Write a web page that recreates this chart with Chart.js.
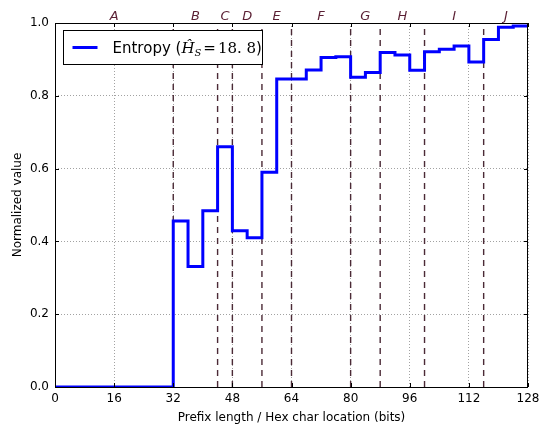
<!DOCTYPE html>
<html>
<head>
<meta charset="utf-8">
<script src="https://cdn.jsdelivr.net/npm/chart.js@4/dist/chart.umd.min.js"></script>
<style>
    html, body { margin: 0; padding: 0; background: #fff; }
    #wrap { width: 540px; height: 427px; }
</style>
</head>
<body>
<div id="wrap"><canvas id="entropy-chart"></canvas></div>
<script>
// entropy per hex character (32 chars, 4 bits each)
const charEntropy = [
    0, 0, 0, 0, 0, 0, 0, 0,
    0.456, 0.331, 0.484, 0.660, 0.429, 0.410, 0.590, 0.846,
    0.846, 0.871, 0.905, 0.907, 0.851, 0.864, 0.919, 0.912,
    0.870, 0.921, 0.928, 0.937, 0.893, 0.955, 0.988, 0.992
];
const bitsPerChar = 4;
const segmentBounds = [32, 44, 48, 56, 64, 80, 88, 100, 116];
const segmentNames = ['A', 'B', 'C', 'D', 'E', 'F', 'G', 'H', 'I', 'J'];
const segmentCenters = [16, 38, 46, 52, 60, 72, 84, 94, 108, 122];
const xTicks = [0, 16, 32, 48, 64, 80, 96, 112, 128];
const yTicks = [0, 0.2, 0.4, 0.6, 0.8, 1.0];
const entropyLabel = 18.8;

const stepPoints = charEntropy.map((v, i) => ({ x: i * bitsPerChar, y: v }));
stepPoints.push({ x: charEntropy.length * bitsPerChar, y: charEntropy[charEntropy.length - 1] });

const boundaryDatasets = segmentBounds.map(b => ({
    data: [{ x: b, y: 0 }, { x: b, y: 1 }],
    borderColor: '#4b2a36',
    borderWidth: 1.4,
    borderDash: [6, 5],
    pointRadius: 0,
    fill: false
}));

// matplotlib-style inward ticks on all four sides
const inwardTicks = {
    id: 'inwardTicks',
    afterDatasetsDraw(chart) {
        const { ctx, chartArea: a, scales: { x, y } } = chart;
        ctx.save();
        ctx.strokeStyle = '#000';
        ctx.lineWidth = 1;
        ctx.beginPath();
        xTicks.forEach(t => {
            const px = Math.round(x.getPixelForValue(t)) + 0.5;
            ctx.moveTo(px, a.bottom); ctx.lineTo(px, a.bottom - 4);
            ctx.moveTo(px, a.top); ctx.lineTo(px, a.top + 4);
        });
        yTicks.forEach(t => {
            const py = Math.round(y.getPixelForValue(t)) + 0.5;
            ctx.moveTo(a.left, py); ctx.lineTo(a.left + 4, py);
            ctx.moveTo(a.right, py); ctx.lineTo(a.right - 4, py);
        });
        ctx.stroke();
        ctx.strokeRect(a.left + 0.5, a.top + 0.5, a.right - a.left - 1, a.bottom - a.top);
        ctx.restore();
    }
};

// segment letters above the plot
const segmentLetters = {
    id: 'segmentLetters',
    afterDraw(chart) {
        const { ctx, chartArea: a, scales: { x } } = chart;
        ctx.save();
        ctx.fillStyle = '#5a1f33';
        ctx.font = 'italic 13px "DejaVu Sans"';
        ctx.textAlign = 'center';
        ctx.textBaseline = 'alphabetic';
        segmentNames.forEach((n, i) => {
            ctx.fillText(n, x.getPixelForValue(segmentCenters[i]), a.top - 3);
        });
        ctx.restore();
    }
};

// legend box with the math-style label
const mathLegend = {
    id: 'mathLegend',
    afterDraw(chart) {
        const { ctx, chartArea: a } = chart;
        const bx = a.left + 8.5, by = a.top + 7.5, bw = 199, bh = 34;
        ctx.save();
        ctx.fillStyle = '#fff';
        ctx.fillRect(bx, by, bw, bh);
        ctx.strokeStyle = '#000';
        ctx.lineWidth = 1;
        ctx.strokeRect(bx, by, bw, bh);
        const cy = by + bh / 2;
        ctx.strokeStyle = '#0000ff';
        ctx.lineWidth = 3;
        ctx.beginPath();
        ctx.moveTo(bx + 9, cy); ctx.lineTo(bx + 34, cy);
        ctx.stroke();

        ctx.fillStyle = '#000';
        ctx.textBaseline = 'alphabetic';
        ctx.textAlign = 'left';
        const base = cy + 5.5;
        let tx = bx + 49;
        const put = (text, font, dy = 0) => {
            ctx.font = font;
            ctx.fillText(text, tx, base + dy);
            tx += ctx.measureText(text).width;
        };
        put('Entropy (', '15px "DejaVu Sans"');
        put('Ĥ', 'italic 15px "DejaVu Serif"');
        put('S', 'italic 10px "DejaVu Serif"', 3);
        tx += 2;
        put('=', '15px "DejaVu Serif"');
        tx += 2;
        put(entropyLabel.toFixed(1).replace('.', '. '), '15px "DejaVu Serif"');
        put(')', '15px "DejaVu Sans"');
        ctx.restore();
    }
};

new Chart(document.getElementById('entropy-chart'), {
    type: 'line',
    data: {
        datasets: [{
            label: 'Entropy',
            data: stepPoints,
            borderColor: '#0000ff',
            borderWidth: 3,
            stepped: 'before',
            pointRadius: 0,
            fill: false
        }, ...boundaryDatasets]
    },
    options: {
        responsive: true,
        maintainAspectRatio: false,
        animation: false,
        layout: { padding: { top: 23, right: 12, left: 0, bottom: 0 } },
        plugins: {
            legend: { display: false },
            tooltip: { enabled: false }
        },
        scales: {
            x: {
                type: 'linear',
                min: 0,
                max: 128,
                afterBuildTicks: scale => { scale.ticks = xTicks.map(v => ({ value: v })); },
                afterFit: scale => {
                    scale.height = 40;
                    scale.paddingLeft = 0;
                    scale.paddingRight = 0;
                },
                grid: {
                    color: '#8a8a8a',
                    lineWidth: 0.8,
                    drawTicks: false
                },
                border: { display: false, dash: [1, 2] },
                ticks: {
                    color: '#000',
                    font: { family: 'DejaVu Sans', size: 12 },
                    padding: 5,
                    maxRotation: 0
                },
                title: {
                    display: true,
                    text: 'Prefix length / Hex char location (bits)',
                    color: '#000',
                    font: { family: 'DejaVu Sans', size: 12 },
                    padding: { top: 2, bottom: 2 }
                }
            },
            y: {
                min: 0,
                max: 1,
                afterBuildTicks: scale => { scale.ticks = yTicks.map(v => ({ value: v })); },
                afterFit: scale => {
                    scale.width = 55;
                    scale.paddingTop = 0;
                    scale.paddingBottom = 0;
                },
                grid: {
                    color: '#8a8a8a',
                    lineWidth: 0.8,
                    drawTicks: false
                },
                border: { display: false, dash: [1, 2] },
                ticks: {
                    color: '#000',
                    font: { family: 'DejaVu Sans', size: 12 },
                    padding: 6,
                    callback: v => v.toFixed(1)
                },
                title: {
                    display: true,
                    text: 'Normalized value',
                    color: '#000',
                    font: { family: 'DejaVu Sans', size: 12 },
                    padding: { top: 11, bottom: 2 }
                }
            }
        }
    },
    plugins: [inwardTicks, segmentLetters, mathLegend]
});
</script>
</body>
</html>
